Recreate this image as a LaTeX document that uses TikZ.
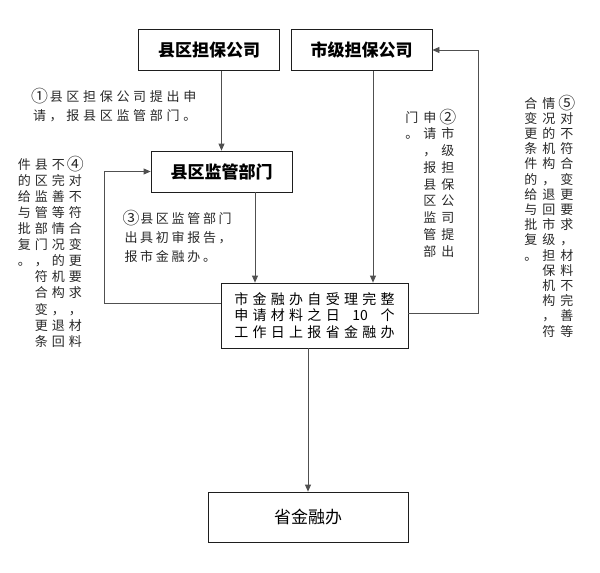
\documentclass[tikz,border=0pt]{standalone}
\usepackage{fontspec}
\setmainfont{Noto Sans CJK SC}
\usetikzlibrary{arrows.meta}
\definecolor{boxc}{RGB}{30,30,30}
\definecolor{lnc}{RGB}{80,80,80}
\definecolor{notec}{RGB}{40,40,40}
\makeatletter
% one character per cell, in a row or in a column
\newcommand\hcells[2]{\@tfor\hc:=#2\do{\hbox to #1pt{\hss\hc\hss}}}
\newcommand\vcells[3]{\vtop{\baselineskip=#2pt\lineskiplimit=-100pt%
    \@tfor\vc:=#3\do{\hbox to #1pt{\hss\vc\hss}}}}
\makeatother
% circled step numbers, as large as the characters
\newcommand\stepno[1]{\raisebox{-0.1em}{\scalebox{1.3}{#1}}}
\begin{document}
\begin{tikzpicture}[x=1pt, y=-1pt,
    >={Triangle[length=7pt,width=6pt]},
    box/.style={draw=boxc, line width=0.8pt, minimum width=141pt,
        minimum height=41pt, inner sep=0pt,
        font=\fontsize{17}{20}\selectfont\bfseries},
    link/.style={->, draw=lnc, line width=0.8pt},
    note/.style={inner sep=0pt, text=notec,
        font=\fontsize{13}{19}\selectfont, align=left}]

    \useasboundingbox (0,0) rectangle (600,573);

% boxes
    \node[box] (xqdb) at (209,50) {县区担保公司};
    \node[box] (sjdb) at (361.5,50) {市级担保公司};
    \node[box] (xqjg) at (221.5,171.5) {县区监管部门};
    \node[box, minimum width=187pt, minimum height=65pt, align=center,
        font=\fontsize{14}{16.5}\selectfont] (sjrb) at (314.5,315.5)
        {\hcells{18.3}{市金融办自受理完整}\\
         \hcells{18.3}{申请材料之日}\hbox to 36.6pt{\hss 10\hss}\hcells{18.3}{个}\\
         \hcells{18.3}{工作日上报省金融办}};
    \node[box, minimum width=200pt, minimum height=50pt,
        font=\fontsize{17}{20}\selectfont] (sjr) at (308,517) {省金融办};

% turning points
    \coordinate (k2) at (373,0);
    \coordinate (k3) at (255,0);
    \coordinate (k4) at (104,303);
    \coordinate (k5) at (478,313);

% arrows
    \draw[link] (xqdb.south -| xqjg.north) -- (xqjg.north);
    \draw[link] (xqjg.south -| k3) -- (sjrb.north -| k3);
    \draw[link] (sjdb.south -| k2) -- (sjrb.north -| k2);
    \draw[link] (sjrb.south -| sjr.north) -- (sjr.north);
% sent back
    \draw[link] (sjrb.west |- k4) -- (k4) |- (xqjg.west);
    \draw[link] (sjrb.east |- k5) -- (k5) |- (sjdb.east);

% notes
    \node[note, anchor=north west] (n1) at (31,88)
        {\hcells{16.7}{{\stepno{①}}县区担保公司提出申}\\\hcells{16.7}{请，报县区监管部门。}};
    \node[note, anchor=north west] (n3) at (123,210)
        {\hcells{15.7}{{\stepno{③}}县区监管部门}\\\hcells{15.7}{出具初审报告，}\\\hcells{15.7}{报市金融办。}};
    \node[note, anchor=north east] (n2) at (457,109)
        {\vcells{18}{16.75}{门。}\vcells{18}{16.75}{申请，报县区监管部}%
         \vcells{18}{16.75}{{\stepno{②}}市级担保公司提出}};
    \node[note, anchor=north east] (n4) at (84,156)
        {\vcells{17}{16.1}{件的给与批复。}\vcells{17}{16.1}{县区监管部门，符合变更条}%
         \vcells{17}{16.1}{不完善等情况的机构，退回}\vcells{17}{16.1}{{\stepno{④}}对不符合变更要求，材料}};
    \node[note, anchor=north east] (n5) at (576,95)
        {\vcells{18}{15.2}{合变更条件的给与批复。}%
         \vcells{18}{15.2}{情况的机构，退回市级担保机构，符}%
         \vcells{18}{15.2}{{\stepno{⑤}}对不符合变更要求，材料不完善等}};
\end{tikzpicture}
\end{document}
